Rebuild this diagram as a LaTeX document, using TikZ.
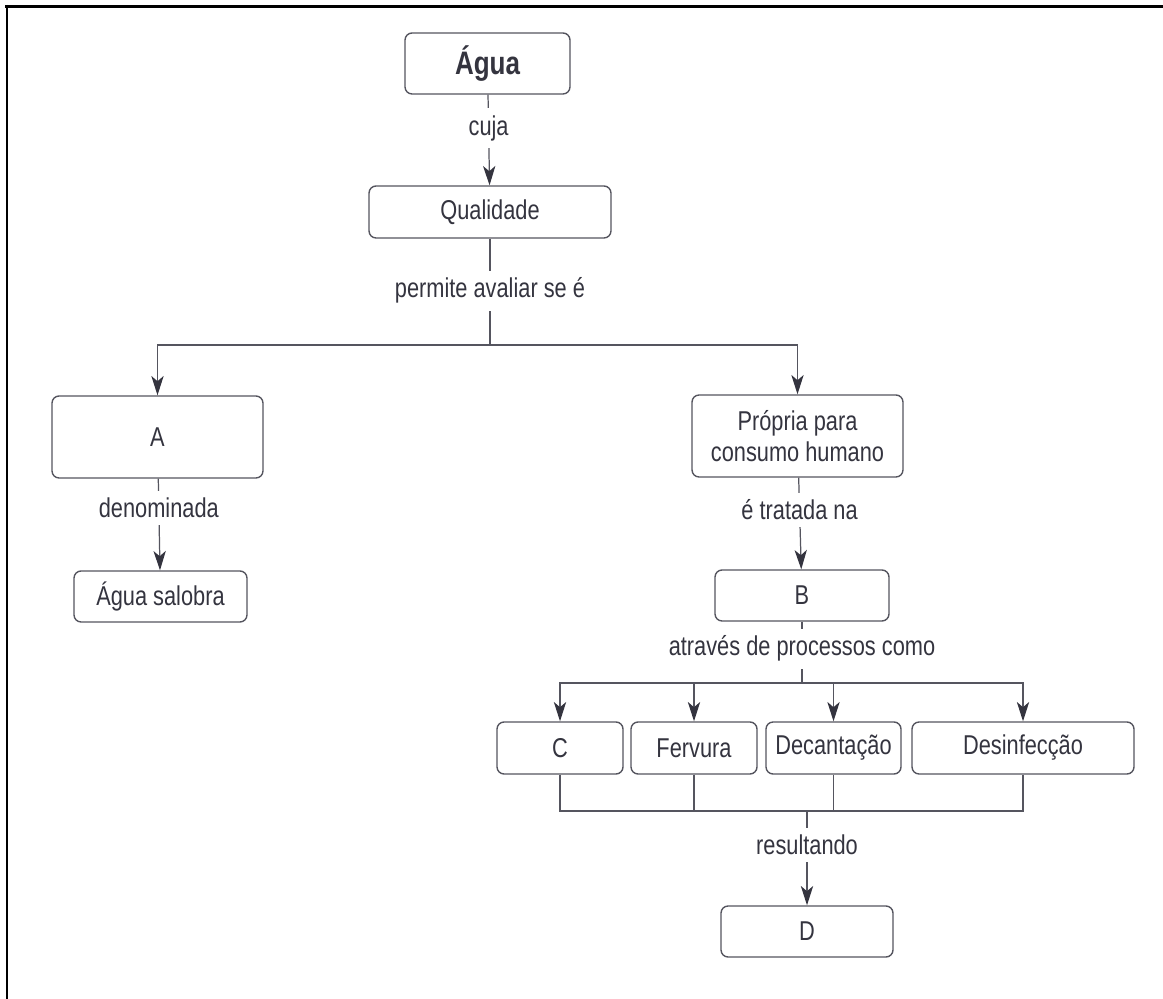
\documentclass[tikz,border=0pt]{standalone}
\usepackage{fontspec}
\setmainfont{Liberation Sans}[FakeStretch=0.8]
\usetikzlibrary{arrows.meta}
\definecolor{ink}{HTML}{34343F}
\definecolor{rule}{HTML}{55555F}

\begin{document}
\begin{tikzpicture}[x=0.02cm,y=-0.02cm,
 every node/.style={text=ink,font=\fontsize{15.5}{18}\selectfont},
 box/.style={rectangle,rounded corners=4pt,draw=rule,line width=0.8pt,minimum height=1.02cm,align=center,fill=white},
 lbl/.style={fill=white,inner xsep=2pt,inner ysep=4pt},
 link/.style={draw=rule,line width=0.7pt},
 arr/.style={link,-{Stealth[length=11pt,width=7pt,inset=3pt,color=ink]}}]

\useasboundingbox (0,0) rectangle (1163,999);
\draw[line width=1.7pt] (5,7) -- (1163,7);
\draw[line width=1.7pt] (7,5) -- (7,999);

% Nodes
\node[box,minimum width=3.3cm,minimum height=1.22cm,font=\fontsize{18.5}{20}\selectfont\bfseries] (agua) at (487.5,63.5) {Água};
\node[box,minimum width=4.84cm,minimum height=1.04cm] (qual) at (490,212) {Qualidade};
\node[box,minimum width=4.22cm,minimum height=1.64cm] (a) at (157.5,437) {A};
\node[box,minimum width=3.46cm] (salobra) at (160.5,596.5) {Água salobra};
\node[box,minimum width=4.22cm,minimum height=1.64cm] (propria) at (797.5,436) {Própria para\\consumo humano};
\node[box,minimum width=3.48cm] (b) at (802,595.5) {B};
\node[box,minimum width=2.52cm,minimum height=1.04cm] (c) at (560,748) {C};
\node[box,minimum width=2.52cm,minimum height=1.04cm] (fervura) at (694,748) {Fervura};
\node[box,minimum width=2.7cm,minimum height=1.04cm] (decant) at (833.5,748) {Decantação};
\node[box,minimum width=4.44cm,minimum height=1.04cm] (desinf) at (1023,748) {Desinfecção};
\node[box,minimum width=3.44cm] (d) at (807,931.5) {D};

\coordinate (split) at (490,345);
\coordinate (fork) at (802,683);
\coordinate (join) at (807,811);

%arcs
\path (agua) edge[arr] node[lbl,pos=0.37] {cuja} (qual);
\path (qual) edge[link] node[lbl,pos=0.49] {permite avaliar se é} (split);
\draw[arr] (split) -| (a);
\draw[arr] (split) -| (propria);
\path (a) edge[arr] node[lbl,pos=0.32] {denominada} (salobra);
\path (propria) edge[arr] node[lbl,pos=0.35] {é tratada na} (b);
\path (b) edge[link] node[lbl,pos=0.44] {através de processos como} (fork);
\draw[arr] (fork) -| (c);
\draw[arr] (fork) -| (fervura);
\draw[arr] (fork) -| (decant);
\draw[arr] (fork) -| (desinf);
\draw[link] (c) |- (join);
\draw[link] (fervura) |- (join);
\draw[link] (decant) |- (join);
\draw[link] (desinf) |- (join);
\path (join) edge[arr] node[lbl,pos=0.36] {resultando} (d);
\end{tikzpicture}
\end{document}
